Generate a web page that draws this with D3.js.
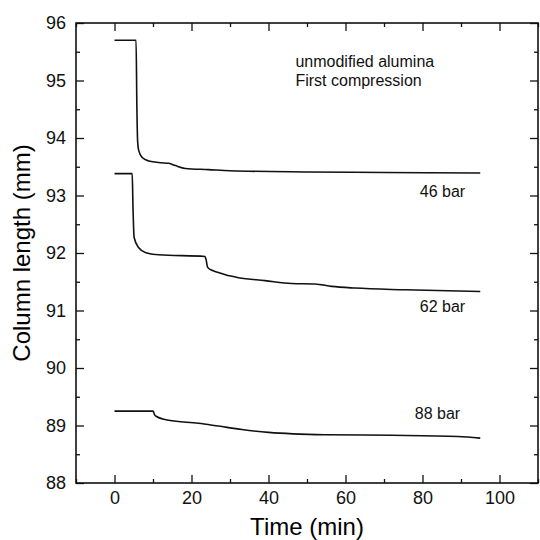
<!DOCTYPE html>
<html lang="en">
<head>
    <meta charset="UTF-8">
    <title>Column length vs time</title>
    <script src="https://d3js.org/d3.v7.min.js"></script>
    <style>
        body {
            margin: 0;
            background: #fff;
            font-family: "Liberation Sans", Arial, sans-serif;
        }
        .tick text {
            font-size: 18px;
            font-family: "Liberation Sans", Arial, sans-serif;
            fill: #111;
        }
        .tick line {
            stroke: #111;
            stroke-width: 1.3;
        }
        .curve {
            fill: none;
            stroke: #111;
            stroke-width: 1.6;
        }
        .note {
            font-size: 16px;
            fill: #111;
        }
    </style>
</head>
<body>
    <script>
        // series: time (min) and column length (mm)
        const time46 = [0, 5.6, 5.8, 6.0, 6.3, 7.2, 8.9, 12, 14.1, 15.8, 18.4, 24.4, 30, 50, 70, 95];
        const len46  = [95.70, 95.70, 94.6, 93.95, 93.78, 93.66, 93.60, 93.57, 93.56, 93.52, 93.47, 93.45, 93.43, 93.41, 93.40, 93.39];

        const time62 = [0, 4.6, 4.8, 5.1, 6.3, 8.0, 11.5, 23.5, 23.8, 24.2, 25.3, 27.0, 28.8, 32.2, 39.1, 46, 52.1, 56.4, 62.4, 75.4, 95];
        const len62  = [93.38, 93.38, 92.8, 92.27, 92.09, 92.01, 91.97, 91.94, 91.88, 91.75, 91.70, 91.66, 91.62, 91.57, 91.52, 91.47, 91.46, 91.42, 91.39, 91.36, 91.33];

        const time88 = [0, 10.0, 10.4, 10.8, 14.1, 21.8, 27, 33.1, 40, 54.7, 71.9, 89.2, 95];
        const len88  = [89.25, 89.25, 89.19, 89.16, 89.09, 89.04, 88.99, 88.93, 88.88, 88.84, 88.83, 88.81, 88.78];

        const seriesLabels = ["46 bar", "62 bar", "88 bar"];
        const labelTimes = [79.3, 79.3, 78];
        const labelValues = [92.98, 90.97, 89.12];

        const xMajor = [0, 20, 40, 60, 80, 100];
        const xMinor = [-10, 10, 30, 50, 70, 90, 110];
        const yMajor = [88, 89, 90, 91, 92, 93, 94, 95, 96];
        const yMinor = [88.5, 89.5, 90.5, 91.5, 92.5, 93.5, 94.5, 95.5];

        const noteLines = ["unmodified alumina", "First compression"];

        const W = 540, H = 540;
        const margin = { top: 23, right: 2, bottom: 57, left: 76 };
        const width = W - margin.left - margin.right,
              height = H - margin.top - margin.bottom;

        const svg = d3.select("body").append("svg")
            .attr("width", W)
            .attr("height", H);

        const g = svg.append("g")
            .attr("transform", `translate(${margin.left},${margin.top})`);

        const x = d3.scaleLinear().domain([-10, 110]).range([0, width]);
        const y = d3.scaleLinear().domain([88, 96]).range([height, 0]);

        // axes, ticks pointing inward
        g.append("g")
            .attr("transform", `translate(0,${height})`)
            .call(d3.axisBottom(x).tickValues(xMajor).tickSize(-8).tickPadding(8).tickFormat(d3.format("d")));
        g.append("g")
            .attr("transform", `translate(0,${height})`)
            .call(d3.axisBottom(x).tickValues(xMinor).tickSize(-4).tickFormat(""));
        g.append("g")
            .call(d3.axisTop(x).tickValues(xMajor).tickSize(-8).tickFormat(""));
        g.append("g")
            .call(d3.axisTop(x).tickValues(xMinor).tickSize(-4).tickFormat(""));

        g.append("g")
            .call(d3.axisLeft(y).tickValues(yMajor).tickSize(-8).tickPadding(10).tickFormat(d3.format("d")));
        g.append("g")
            .call(d3.axisLeft(y).tickValues(yMinor).tickSize(-4).tickFormat(""));
        g.append("g")
            .attr("transform", `translate(${width},0)`)
            .call(d3.axisRight(y).tickValues(yMajor).tickSize(-8).tickFormat(""));
        g.append("g")
            .attr("transform", `translate(${width},0)`)
            .call(d3.axisRight(y).tickValues(yMinor).tickSize(-4).tickFormat(""));

        g.selectAll(".domain").remove();

        g.append("rect")
            .attr("width", width)
            .attr("height", height)
            .attr("fill", "none")
            .attr("stroke", "#111")
            .attr("stroke-width", 1.6);

        const line = d3.line()
            .x(d => x(d[0]))
            .y(d => y(d[1]))
            .curve(d3.curveMonotoneX);

        [[time46, len46], [time62, len62], [time88, len88]].forEach(([ts, vs]) => {
            g.append("path")
                .attr("class", "curve")
                .attr("d", line(ts.map((t, i) => [t, vs[i]])));
        });

        seriesLabels.forEach((s, i) => {
            g.append("text")
                .attr("class", "note")
                .attr("x", x(labelTimes[i]))
                .attr("y", y(labelValues[i]))
                .text(s);
        });

        noteLines.forEach((s, i) => {
            g.append("text")
                .attr("class", "note")
                .attr("x", x(47))
                .attr("y", 44 + i * 19)
                .text(s);
        });

        svg.append("text")
            .attr("x", margin.left + x(50))
            .attr("y", 535)
            .attr("text-anchor", "middle")
            .style("font-size", "24px")
            .text("Time (min)");

        svg.append("text")
            .attr("transform", `translate(30,${margin.top + height / 2}) rotate(-90)`)
            .attr("text-anchor", "middle")
            .style("font-size", "24px")
            .text("Column length (mm)");
    </script>
</body>
</html>
